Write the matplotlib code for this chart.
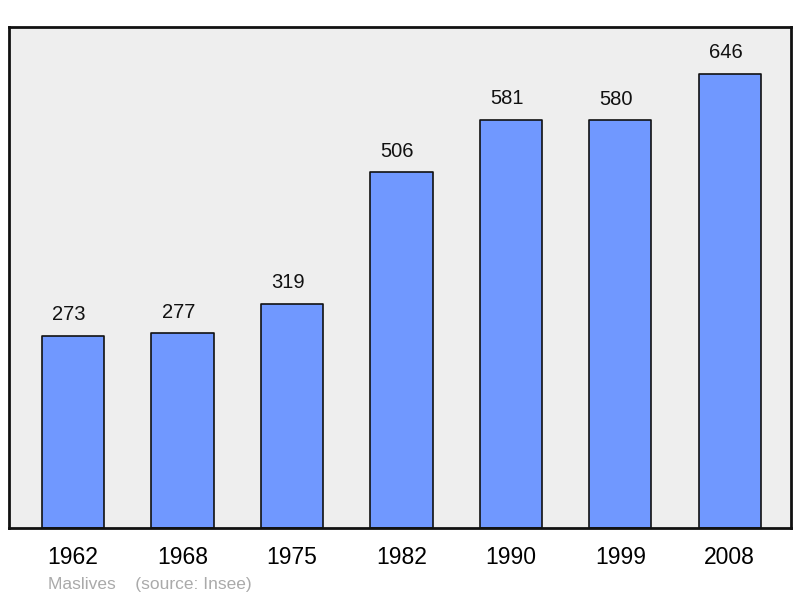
import matplotlib.pyplot as plt

plt.rcParams['font.family'] = ['Liberation Sans', 'DejaVu Sans']

years = ['1962', '1968', '1975', '1982', '1990', '1999', '2008']
population = [273, 277, 319, 506, 581, 580, 646]

fig = plt.figure(figsize=(8, 5.98), dpi=100)
ax = fig.add_axes([9 / 800, 70 / 598, 782 / 800, 501 / 598])
ax.set_facecolor('#eeeeee')

x = range(len(years))
bars = ax.bar(x, population, width=0.57, color='#7098ff', edgecolor='#111111',
              linewidth=1.2, joinstyle='round', zorder=2)

# value labels sit slightly left of the bar centre in the original
for xi, v in zip(x, population):
    ax.annotate(str(v), (xi, v), xytext=(-3, 8.5), textcoords='offset points',
                ha='center', va='bottom', fontsize=14.5, color='#111111')

ax.set_xlim(-0.585, 6.56)
ax.set_ylim(0, 713)
ax.set_yticks([])
ax.set_xticks(list(x))
ax.set_xticklabels(years, fontsize=16.5)
ax.tick_params(axis='x', length=0, pad=13)

for side in ['top', 'left', 'right', 'bottom']:
    ax.spines[side].set_linewidth(2)
    ax.spines[side].set_color('#111111')

fig.text(48 / 800, 1 - 585 / 598, 'Maslives    (source: Insee)', fontsize=12.5,
         color='#aaaaaa', va='center', ha='left')

fig.savefig('out.png', dpi=100)
